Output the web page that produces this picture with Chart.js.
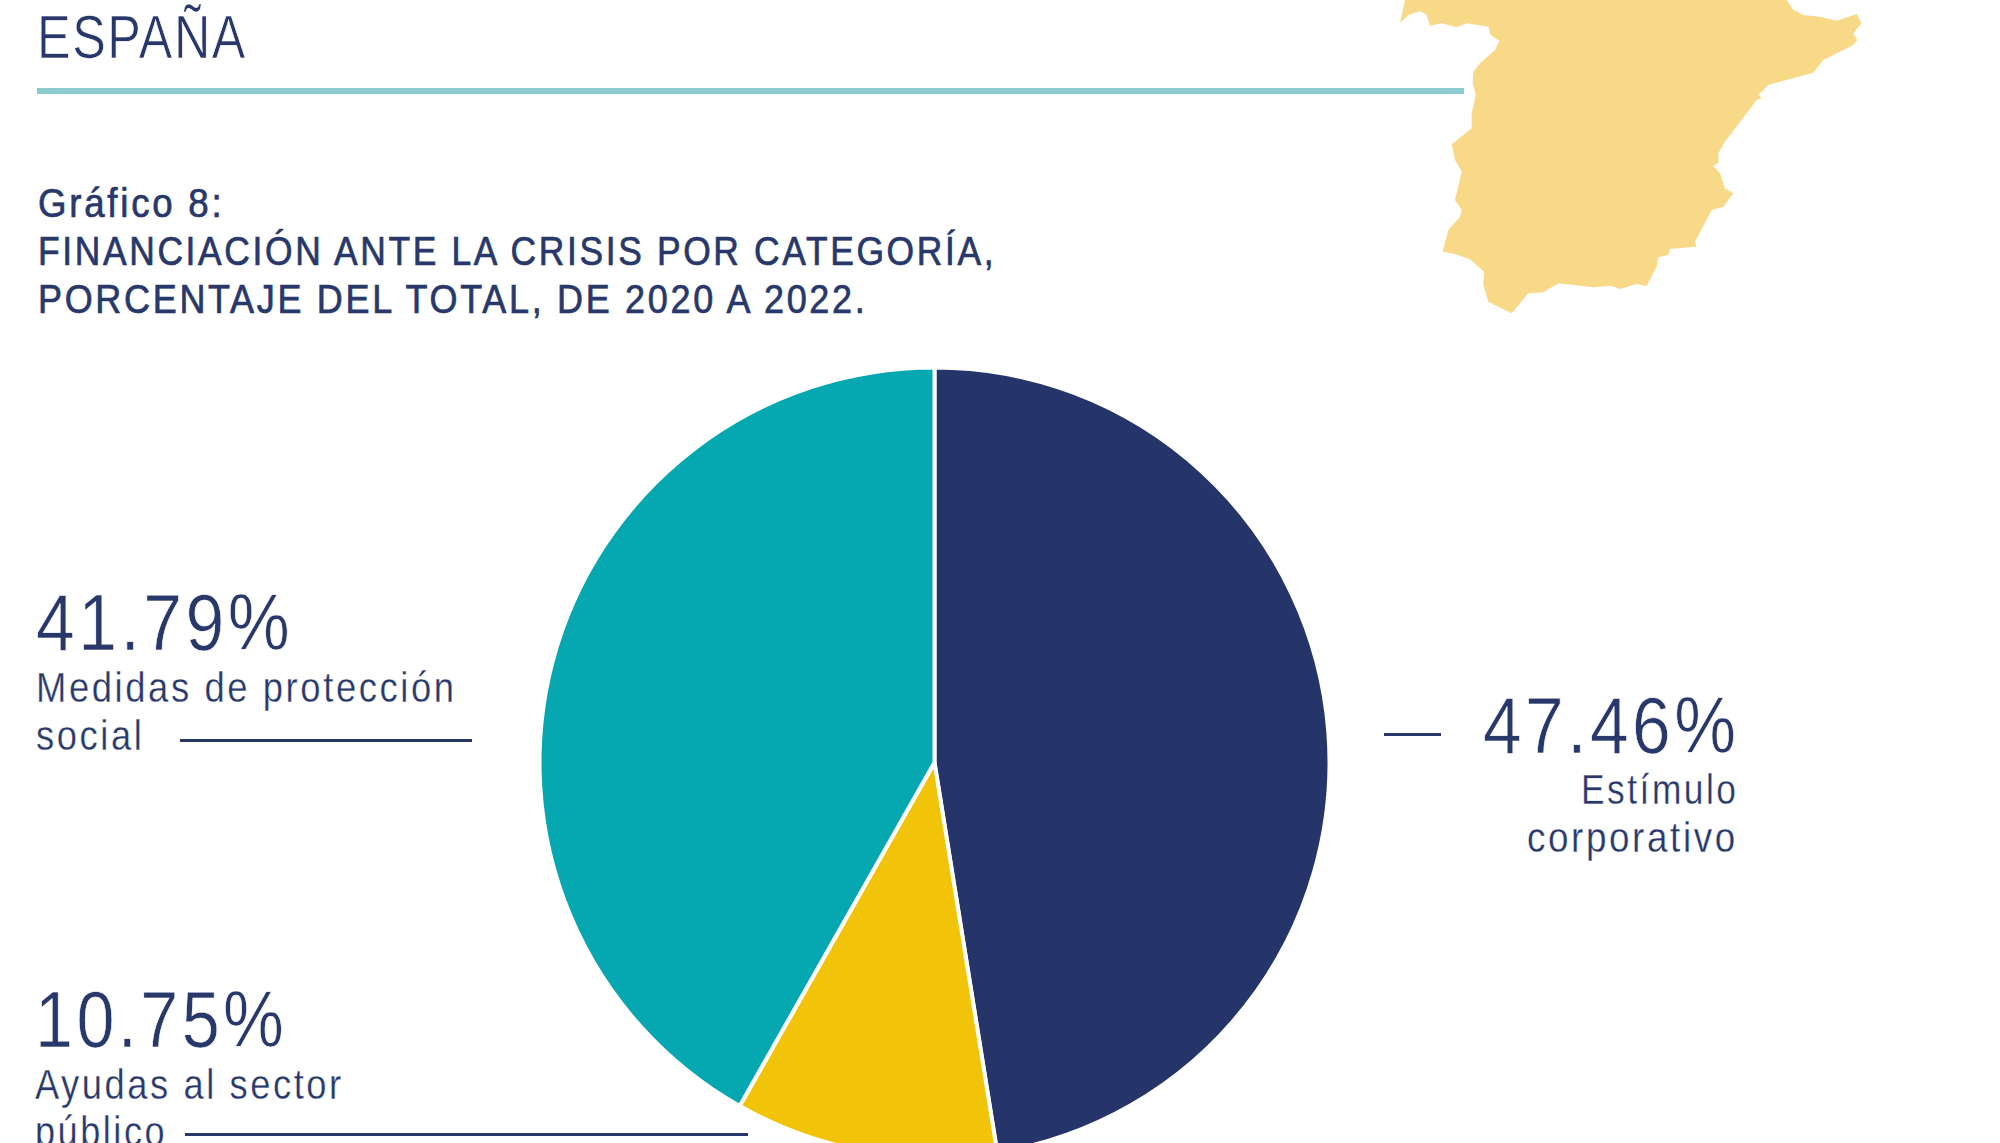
<!DOCTYPE html>
<html lang="es">
<head>
<meta charset="utf-8">
<title>Gráfico 8</title>
<script src="https://cdn.jsdelivr.net/npm/chart.js@4"></script>
<style>
  html, body { margin: 0; padding: 0; background: #fff; }
  #page { position: relative; width: 2000px; height: 1143px; overflow: hidden; background: #fff; }
  #map { position: absolute; left: 1380px; top: 0; }
  #pie { position: absolute; left: 534px; top: 362px; }
  .t { position: absolute; line-height: 0; white-space: nowrap; color: #28386b;
       font-family: "Liberation Sans", sans-serif; }
  .rule { position: absolute; background: #28386b; height: 3px; }
</style>
</head>
<body>
<div id="page">
  <svg id="map" width="500" height="330" viewBox="0 0 1500 990">
    <polygon fill="#f7d987" points="75,0 60,68 85,45 120,33 140,45 150,77 185,70 230,82 260,70 325,80 332,105 358,122 345,150 300,190 280,215 278,250 287,285 275,340 275,385 215,433 225,480 245,515 225,600 245,630 240,650 205,690 188,755 225,762 270,778 312,815 310,855 325,905 395,940 445,880 490,877 535,850 640,862 695,857 720,867 770,852 800,858 830,800 835,772 865,765 870,747 945,740 950,745 945,725 995,630 1030,620 1060,580 1035,565 1020,520 1000,498 1015,488 1015,460 1035,425 1130,300 1145,295 1135,285 1165,255 1300,218 1330,180 1420,135 1432,120 1420,100 1445,70 1430,42 1370,62 1320,50 1270,45 1240,30 1220,0"/>
  </svg>
  <canvas id="pie" width="801" height="801"></canvas>
</div>
<script>
  const categories = ['Estímulo corporativo', 'Ayudas al sector público', 'Medidas de protección social'];
  const values = [47.46, 10.75, 41.79];
  const colors = ['#253569', '#f2c409', '#05a8b0'];

  const page = document.getElementById('page');

  // no narrow face installed, so squeeze each line to the width measured in the reference.
  // line-height 0 puts the baseline about 0.3465em under top for Liberation
  function text(str, x, baseline, size, width, opts) {
    const o = opts || {};
    const node = document.createElement('div');
    node.className = 't';
    node.textContent = str;
    node.style.fontSize = size + 'px';
    node.style.top = (baseline - 0.3465 * size) + 'px';
    node.style.letterSpacing = (o.spacing || 0) + 'px';
    if (o.stroke) {
      node.style.webkitTextStroke = o.stroke;
    }
    page.appendChild(node);
    const scale = width / node.offsetWidth;
    node.style.transform = 'scaleX(' + scale + ')';
    if (o.right) {
      node.style.right = (2000 - x) + 'px';
      node.style.transformOrigin = 'right center';
    } else {
      node.style.left = x + 'px';
      node.style.transformOrigin = 'left center';
    }
  }

  function rule(x1, x2, y, h, color) {
    const node = document.createElement('div');
    node.className = 'rule';
    node.style.left = x1 + 'px';
    node.style.width = (x2 - x1) + 'px';
    node.style.top = y + 'px';
    if (h) {
      node.style.height = h + 'px';
    }
    if (color) {
      node.style.background = color;
    }
    page.appendChild(node);
  }

  function pct(i) {
    return values[i].toFixed(2) + '%';
  }

  const light = '0.7px #fff';
  const heavy = '0.7px #28386b';
  const big = { spacing: 4, stroke: light };
  const small = { spacing: 3, stroke: '0.3px #fff' };

  text('ESPAÑA', 37, 58, 62, 210, { spacing: 2, stroke: light });
  rule(37, 1464, 88, 6, '#8ccbd0');

  text('Gráfico 8:', 38, 217, 40, 186, { spacing: 3, stroke: heavy });
  text('FINANCIACIÓN ANTE LA CRISIS POR CATEGORÍA,', 38, 265, 40, 958, { spacing: 3, stroke: heavy });
  text('PORCENTAJE DEL TOTAL, DE 2020 A 2022.', 38, 313, 40, 829, { spacing: 3, stroke: heavy });

  text(pct(2), 36, 651, 80, 257, big);
  text('Medidas de protección', 36, 703, 42, 421, small);
  text('social', 36, 751, 42, 108, small);
  rule(180, 472, 739);

  text(pct(0), 1739, 754, 80, 256, Object.assign({ right: true }, big));
  text('Estímulo', 1738, 805, 42, 157, Object.assign({ right: true }, small));
  text('corporativo', 1738, 853, 42, 211, Object.assign({ right: true }, small));
  rule(1384, 1441, 733);

  text(pct(1), 35, 1048, 80, 252, big);
  text('Ayudas al sector', 35, 1100, 42, 309, small);
  text('público', 35, 1147, 42, 132, small);
  rule(185, 748, 1133);

  new Chart(document.getElementById('pie').getContext('2d'), {
    type: 'pie',
    data: {
      labels: categories,
      datasets: [{
        data: values,
        backgroundColor: colors,
        borderColor: '#fff',
        borderWidth: 4,
        hoverOffset: 0,
      }],
    },
    options: {
      responsive: false,
      animation: false,
      radius: 395,
      plugins: {
        legend: { display: false },
        tooltip: { enabled: false },
      },
    },
  });
</script>
</body>
</html>
